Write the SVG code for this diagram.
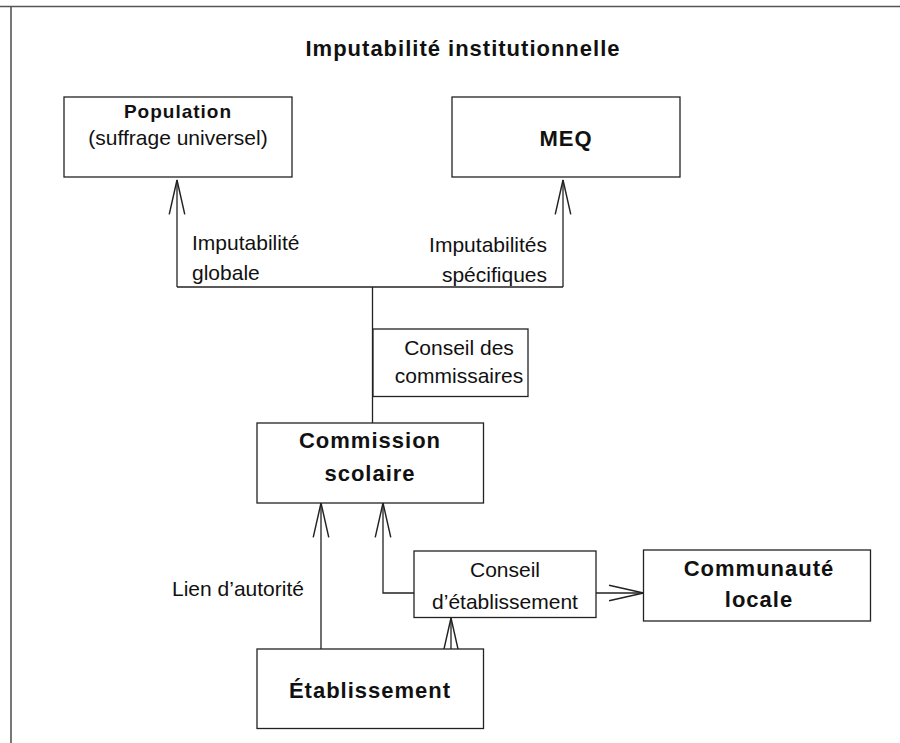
<svg xmlns="http://www.w3.org/2000/svg" width="900" height="743" viewBox="0 0 900 743">
<defs>
<style>
.box{fill:#fff;stroke:#222;stroke-width:1.3}
.t{font-family:"Liberation Sans",Arial,sans-serif;font-size:21px;fill:#111}
.b{font-family:"Liberation Sans",Arial,sans-serif;font-size:22px;font-weight:bold;letter-spacing:1px;fill:#111}
.c{text-anchor:middle}
.ln{fill:none;stroke:#222;stroke-width:1.3}
</style>
<marker id="ah" markerUnits="userSpaceOnUse" markerWidth="40" markerHeight="20" viewBox="-33 -9 36 18" refX="0" refY="0" orient="auto" overflow="visible">
<path d="M-31,-7 L0,0 L-31,7" fill="none" stroke="#222" stroke-width="1.3"/>
</marker>
</defs>
<rect width="900" height="743" fill="#fff"/>
<g id="frame">
<path d="M0,6.5 H900 M11,6.5 V743" fill="none" stroke="#555" stroke-width="1.6"/>
</g>
<text class="b c" x="463" y="56">Imputabilité institutionnelle</text>
<g id="connectors">
<path class="ln" d="M177,287 H563"/>
<path class="ln" d="M177,287 V180" marker-end="url(#ah)"/>
<path class="ln" d="M563,287 V180" marker-end="url(#ah)"/>
<path class="ln" d="M372.5,287 V423"/>
<path class="ln" d="M321,649 V503" marker-end="url(#ah)"/>
<path class="ln" d="M414,593 H383 V503" marker-end="url(#ah)"/>
<path class="ln" d="M596,593 H643.5" marker-end="url(#ah)"/>
<path class="ln" d="M451,649 V618" marker-end="url(#ah)"/>
<text class="t" x="192" y="250">Imputabilité</text>
<text class="t" x="192" y="280">globale</text>
<text class="t" x="547" y="252" text-anchor="end">Imputabilités</text>
<text class="t" x="547" y="282" text-anchor="end">spécifiques</text>
<text class="t" x="172" y="596">Lien d’autorité</text>
</g>
<g id="population">
<rect class="box" x="64" y="97" width="228" height="80"/>
<text class="b c" x="178" y="118" style="font-size:19px">Population</text>
<text class="t c" x="178" y="145">(suffrage universel)</text>
</g>
<g id="meq">
<rect class="box" x="452" y="97" width="228" height="80"/>
<text class="b c" x="566" y="146">MEQ</text>
</g>
<g id="conseil-commissaires">
<rect class="box" x="373" y="329" width="155" height="67.5"/>
<text class="t c" x="459" y="355">Conseil des</text>
<text class="t c" x="459" y="383">commissaires</text>
</g>
<g id="commission">
<rect class="box" x="257" y="423" width="226.5" height="80"/>
<text class="b c" x="370" y="448">Commission</text>
<text class="b c" x="370" y="481">scolaire</text>
</g>
<g id="conseil-etablissement">
<rect class="box" x="414" y="551" width="182" height="66.5"/>
<text class="t c" x="505" y="577">Conseil</text>
<text class="t c" x="505" y="609">d’établissement</text>
</g>
<g id="communaute">
<rect class="box" x="643.5" y="550" width="227" height="71"/>
<text class="b c" x="759" y="576">Communauté</text>
<text class="b c" x="759" y="607">locale</text>
</g>
<g id="etablissement">
<rect class="box" x="257" y="649" width="226.5" height="79.5"/>
<text class="b c" x="370" y="698">Établissement</text>
</g>
</svg>
